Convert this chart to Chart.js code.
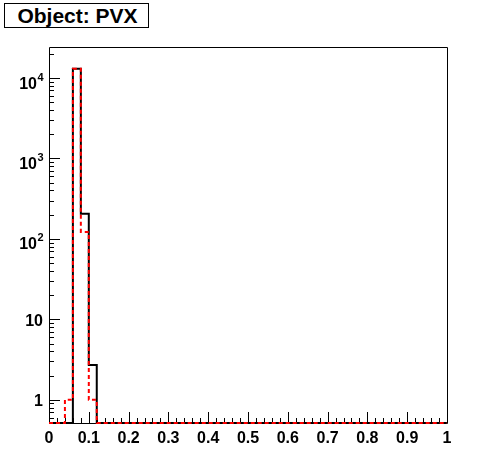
<!DOCTYPE html>
<html>
  <head>
    <meta charset="UTF-8" />
    <title>Object: PVX</title>
    <style>
      body {
        margin: 0;
        background: #fff;
        font-family: "Liberation Sans", Arial, sans-serif;
      }
      #wrap {
        position: relative;
        width: 496px;
        height: 472px;
      }
      #title {
        position: absolute;
        left: 4px;
        top: 3px;
        width: 141px;
        height: 23px;
        border: 1px solid #000;
        font-weight: bold;
        font-size: 21px;
        line-height: 23px;
        text-align: center;
        padding-left: 2px;
        background: #fff;
      }
    </style>
  </head>
  <body>
    <div id="wrap">
      <canvas id="hist" width="496" height="472"></canvas>
      <div id="title">Object: PVX</div>
    </div>

    <script src="https://cdn.jsdelivr.net/npm/chart.js"></script>
    <script>
      // 50 bins of width 0.02 from 0 to 1
      const binLow = 0;
      const binWidth = 0.02;
      const blackCounts = [
        0, 0, 0, 13000, 205, 2.7, 0, 0, 0, 0,
        0, 0, 0, 0, 0, 0, 0, 0, 0, 0,
        0, 0, 0, 0, 0, 0, 0, 0, 0, 0,
        0, 0, 0, 0, 0, 0, 0, 0, 0, 0,
        0, 0, 0, 0, 0, 0, 0, 0, 0, 0,
      ];
      const redCounts = [
        0, 0, 1, 13000, 122, 1, 0, 0, 0, 0,
        0, 0, 0, 0, 0, 0, 0, 0, 0, 0,
        0, 0, 0, 0, 0, 0, 0, 0, 0, 0,
        0, 0, 0, 0, 0, 0, 0, 0, 0, 0,
        0, 0, 0, 0, 0, 0, 0, 0, 0, 0,
      ];
      const xTickLabels = ["0", "0.1", "0.2", "0.3", "0.4", "0.5", "0.6", "0.7", "0.8", "0.9", "1"];
      const yTickPowers = [0, 1, 2, 3, 4];

      const yMin = 0.514;
      const yMax = 24300;

      function toSteps(counts) {
        const pts = counts.map((c, i) => ({
          x: binLow + i * binWidth,
          y: c > 0 ? c : yMin,
        }));
        const last = counts[counts.length - 1];
        pts.push({ x: binLow + counts.length * binWidth, y: last > 0 ? last : yMin });
        return pts;
      }

      // frame, inward ticks and ROOT-style labels
      const rootAxes = {
        id: "rootAxes",
        beforeDatasetsDraw(chart) {
          const { ctx, chartArea: a, scales } = chart;
          const xs = scales.x;
          const ys = scales.y;
          ctx.save();
          ctx.strokeStyle = "#000";
          ctx.lineWidth = 1;
          ctx.beginPath();
          ctx.rect(a.left + 0.5, a.top + 0.5, a.right - a.left, a.bottom - a.top);
          ctx.stroke();

          // x ticks every 0.02, major every 0.1
          ctx.beginPath();
          for (let i = 0; i <= 50; i++) {
            const px = Math.round(xs.getPixelForValue(i * 0.02)) + 0.5;
            const len = i % 5 === 0 ? 11 : 5;
            ctx.moveTo(px, a.bottom);
            ctx.lineTo(px, a.bottom - len);
          }
          // y ticks: decades and 2..9
          for (let p = -1; p <= 4; p++) {
            for (let m = 1; m <= 9; m++) {
              const v = m * Math.pow(10, p);
              if (v < yMin || v > yMax) continue;
              const py = Math.round(ys.getPixelForValue(v)) + 0.5;
              const len = m === 1 ? 11 : 5;
              ctx.moveTo(a.left, py);
              ctx.lineTo(a.left + len, py);
            }
          }
          ctx.stroke();

          ctx.fillStyle = "#000";
          ctx.font = "bold 16px 'Liberation Sans', Arial, sans-serif";
          ctx.textAlign = "center";
          ctx.textBaseline = "alphabetic";
          xTickLabels.forEach((t) => {
            const px = xs.getPixelForValue(parseFloat(t));
            ctx.fillText(t, px, a.bottom + 20);
          });

          yTickPowers.forEach((p) => {
            const py = ys.getPixelForValue(Math.pow(10, p));
            ctx.textAlign = "right";
            ctx.font = "bold 16px 'Liberation Sans', Arial, sans-serif";
            if (p === 0) {
              ctx.fillText("1", 43, py + 6.5);
            } else if (p === 1) {
              ctx.fillText("10", 43, py + 6.5);
            } else {
              ctx.fillText("10", 37, py + 10.5);
              ctx.textAlign = "left";
              ctx.font = "bold 11px 'Liberation Sans', Arial, sans-serif";
              ctx.fillText(String(p), 37.5, py + 2.5);
            }
          });
          ctx.restore();
        },
      };

      new Chart(document.getElementById("hist"), {
        type: "line",
        data: {
          datasets: [
            {
              label: "red",
              data: toSteps(redCounts),
              borderColor: "#ff0000",
              borderWidth: 2,
              borderDash: [4, 3],
              stepped: true,
              pointRadius: 0,
              fill: false,
              clip: 4,
            },
            {
              label: "black",
              data: toSteps(blackCounts),
              borderColor: "#000000",
              borderWidth: 2,
              stepped: true,
              pointRadius: 0,
              fill: false,
              clip: 4,
            },
          ],
        },
        options: {
          responsive: false,
          animation: false,
          layout: { padding: { left: 49, right: 49, top: 47, bottom: 49 } },
          scales: {
            x: { type: "linear", min: 0, max: 1, display: false },
            y: { type: "logarithmic", min: yMin, max: yMax, bounds: "data", display: false },
          },
          plugins: {
            legend: { display: false },
            tooltip: { enabled: false },
          },
        },
        plugins: [rootAxes],
      });
    </script>
  </body>
</html>
